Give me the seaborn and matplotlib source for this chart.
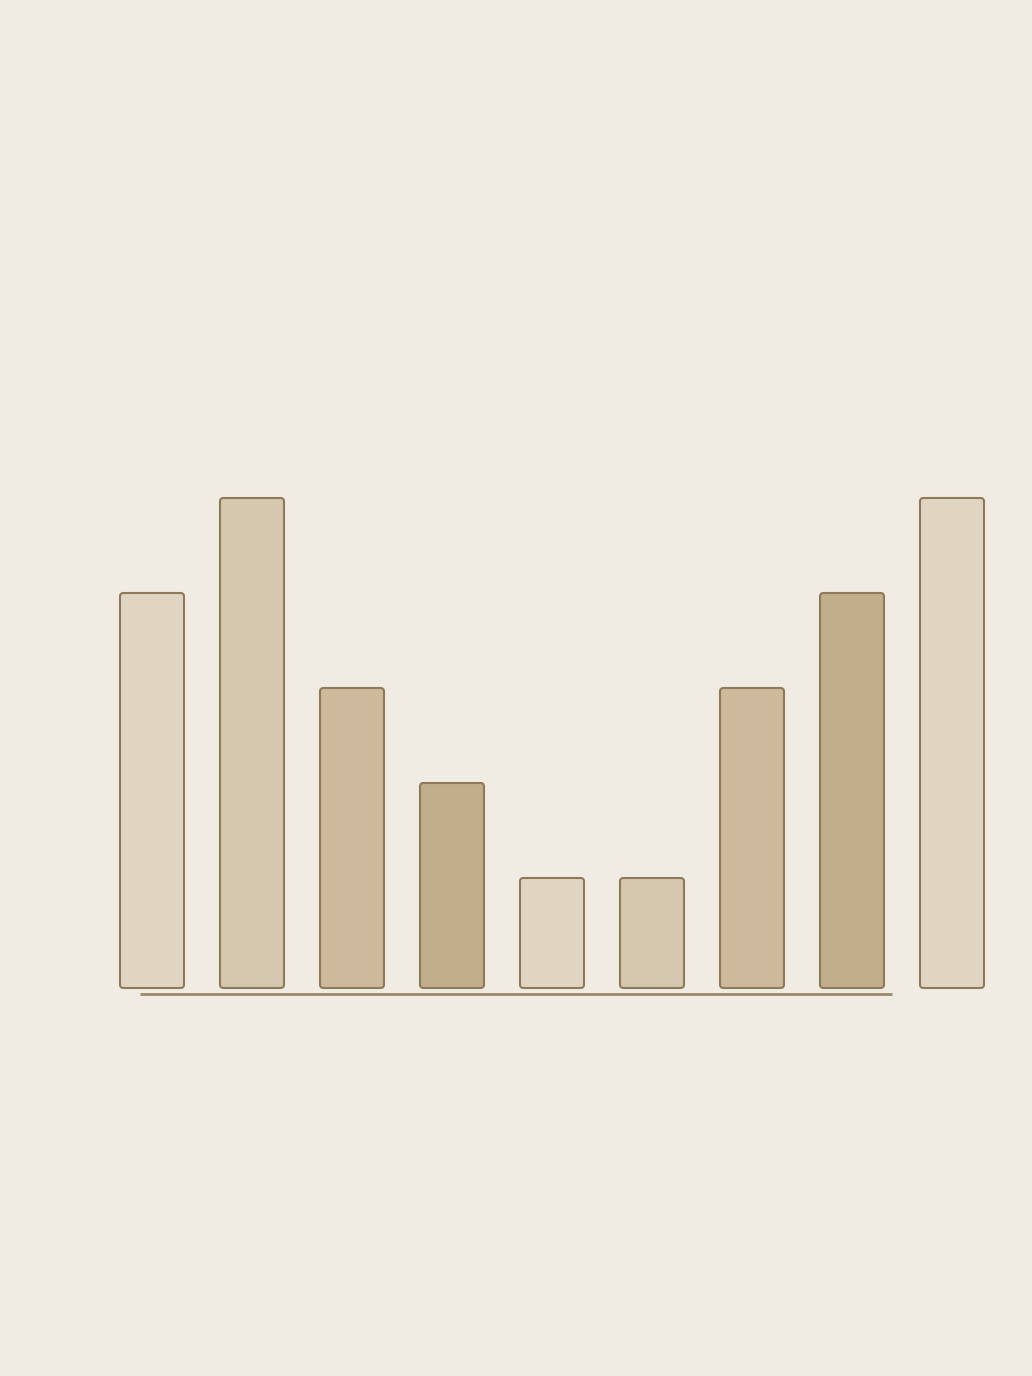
import matplotlib
matplotlib.use("Agg")
import matplotlib.pyplot as plt
import pandas as pd
import seaborn as sns
from matplotlib.patches import FancyBboxPatch

# data (bar heights, arbitrary units)
categories = ["c1", "c2", "c3", "c4", "c5", "c6", "c7", "c8", "c9"]
values = [79, 98, 60, 41, 22, 22, 60, 79, 98]
bar_colors = ["#DFD5C1", "#D6C8AF", "#CDBA9C", "#C1AE8B",
              "#DFD5C1", "#D6C8AF", "#CDBA9C", "#C1AE8B", "#DFD5C1"]

BG = "#F0ECE4"
EDGE = "#8E7A58"

sns.set_theme(style="white")
plt.rcParams["font.family"] = ["DejaVu Sans"]

frame = pd.DataFrame({"category": categories, "value": values})

fig = plt.figure(figsize=(10.32, 13.76), dpi=100, facecolor=BG)
ax = fig.add_axes([140 / 1032, (1376 - 994) / 1376, 752 / 1032, 594 / 1376])
ax.set_facecolor(BG)

sns.barplot(
    data=frame,
    x="category",
    y="value",
    hue="category",
    palette=bar_colors,
    order=categories,
    width=0.64,
    saturation=1,
    legend=False,
    ax=ax,
)

ax.set_xlim(-0.12, 7.4)
ax.set_ylim(-1.2, 117.6)

# swap square bars for rounded ones
for bar in list(ax.patches):
    x, y = bar.get_x(), bar.get_y()
    w, h = bar.get_width(), bar.get_height()
    rounded = FancyBboxPatch(
        (x, y), w, h,
        boxstyle="round,pad=0,rounding_size=0.035",
        mutation_aspect=20,
        facecolor=bar.get_facecolor(),
        edgecolor=EDGE,
        linewidth=1.5,
        clip_on=False,
        zorder=3,
    )
    bar.remove()
    ax.add_patch(rounded)

for side in ["top", "right", "left"]:
    ax.spines[side].set_visible(False)
ax.spines["bottom"].set_color("#9C8A68")
ax.spines["bottom"].set_linewidth(2)
ax.spines["bottom"].set_capstyle("butt")
ax.set_xticks([])
ax.set_yticks([])
ax.set_xlabel("")
ax.set_ylabel("")

fig.savefig("out.png", dpi=100, facecolor=BG)
